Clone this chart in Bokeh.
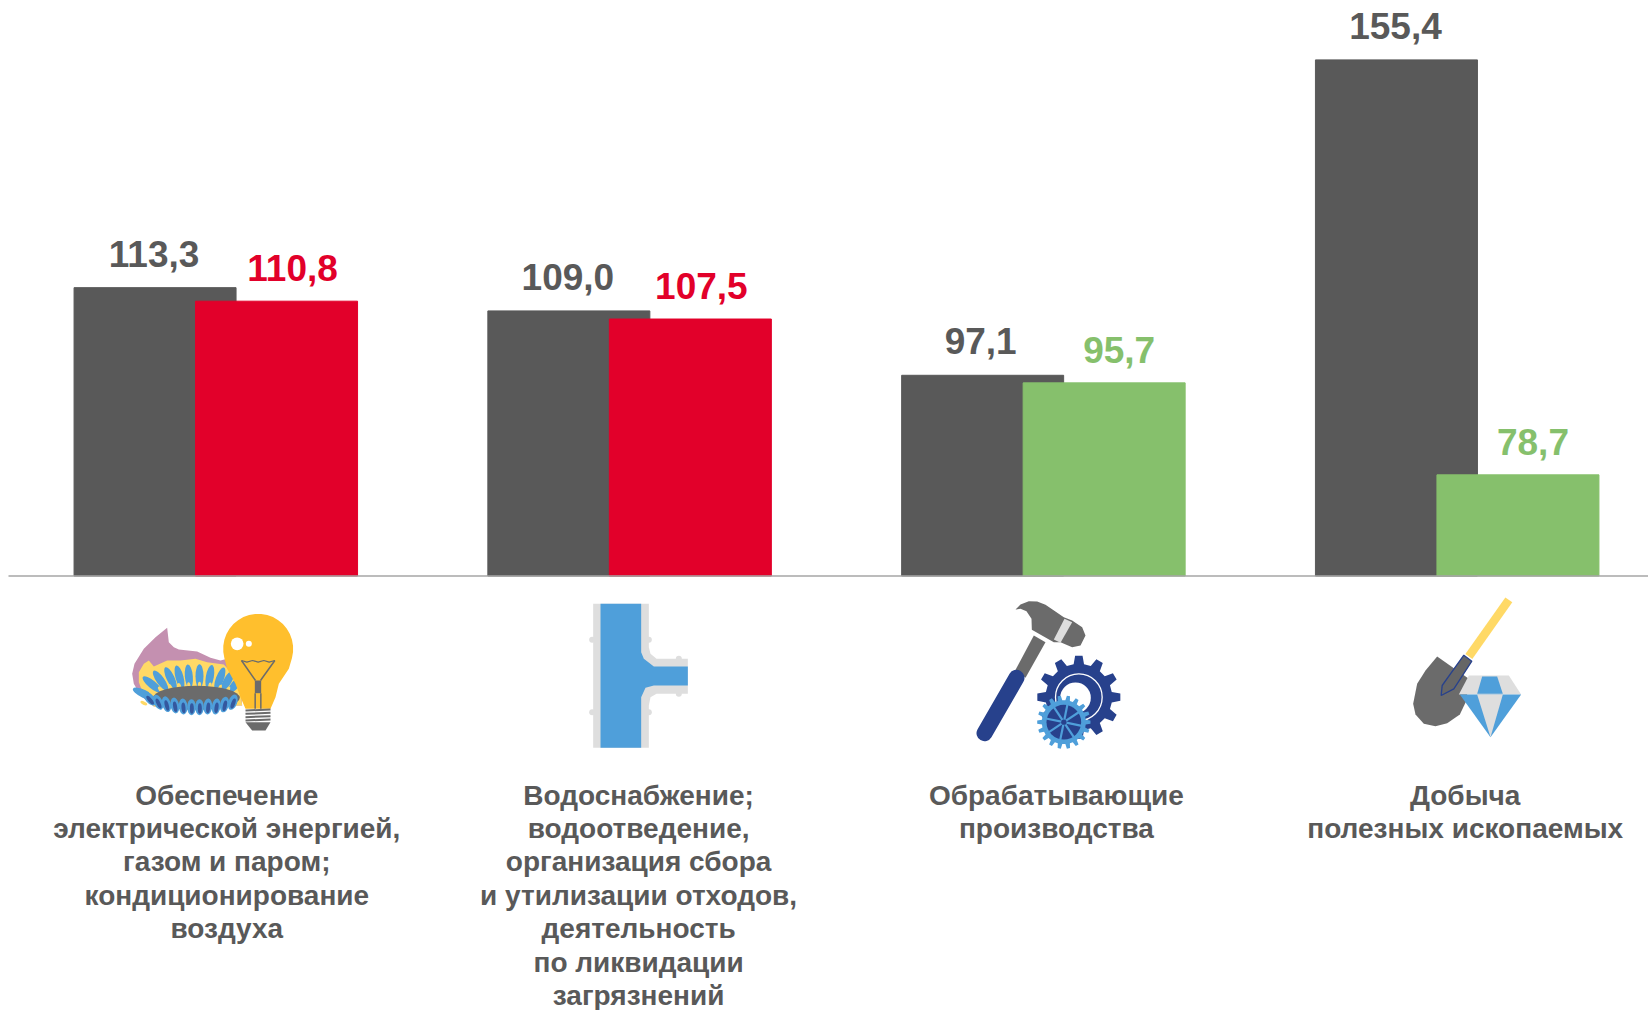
import numpy as np
from bokeh.embed import file_html
from bokeh.resources import INLINE
from bokeh.plotting import figure
from bokeh.models import Range1d
from bokeh.core.properties import value

# ---- data ----
categories = [
    "Обеспечение\nэлектрической энергией,\nгазом и паром;\nкондиционирование\nвоздуха",
    "Водоснабжение;\nводоотведение,\nорганизация сбора\nи утилизации отходов,\nдеятельность\nпо ликвидации\nзагрязнений",
    "Обрабатывающие\nпроизводства",
    "Добыча\nполезных ископаемых",
]
series_a = [113.3, 109.0, 97.1, 155.4]
series_b = [110.8, 107.5, 95.7, 78.7]
labels_a = ["113,3", "109,0", "97,1", "155,4"]
labels_b = ["110,8", "107,5", "95,7", "78,7"]

# ---- style ----
GRAY, RED, GREEN = "#595959", "#E2002A", "#86C06C"
colors_b = [RED, RED, GREEN, GREEN]
label_dx_a = [-1, -1, -2, -1]
label_dx_b = [16, 11, 15, 15]
cat_dx = [11, 9, 13, 8]
FONT = value("Liberation Sans")
W, H = 1648, 1010
PERIOD = 413.8
X0 = 215.3
PX_PER_UNIT = 5.41
BASE = 60
AXIS_Y = 575.5

p = figure(width=W, height=H, output_backend="svg", toolbar_location=None,
           x_range=Range1d(-X0 / PERIOD, (W - X0) / PERIOD),
           y_range=Range1d(BASE - (H - AXIS_Y) / PX_PER_UNIT, BASE + AXIS_Y / PX_PER_UNIT),
           min_border=0, outline_line_color=None)
p.grid.visible = False
p.axis.visible = False
# overlay ranges in page pixels, for the pictograms and caption placement
p.extra_x_ranges["px"] = Range1d(0, W)
p.extra_y_ranges["px"] = Range1d(H, 0)
PX = dict(x_range_name="px", y_range_name="px")

xs = np.arange(len(categories), dtype=float)
BW = 162 / PERIOD
OFF = 60.75 / PERIOD

p.vbar(x=xs - OFF, top=series_a, bottom=BASE, width=BW, color=GRAY)
p.vbar(x=xs + OFF, top=series_b, bottom=BASE, width=BW, color=colors_b)
p.line(x=[8, W], y=[BASE, BASE], line_color="#A6A6A6", line_width=1.5, x_range_name="px")

p.text(x=xs - OFF, y=series_a, text=labels_a, text_color=GRAY, text_font=FONT,
       text_font_style="bold", text_font_size="37px", text_align="center",
       text_baseline="alphabetic", x_offset=label_dx_a, y_offset=-34)
p.text(x=xs + OFF, y=series_b, text=labels_b, text_color=colors_b, text_font=FONT,
       text_font_style="bold", text_font_size="37px", text_align="center",
       text_baseline="alphabetic", x_offset=label_dx_b, y_offset=-33)

p.text(x=xs, y=[779] * 4, text=categories, x_offset=cat_dx, text_color=GRAY, text_font=FONT,
       text_font_style="bold", text_font_size="28px", text_align="center",
       text_baseline="top", text_line_height=1.08, y_range_name="px")


# ---- pictograms (page pixels via zoom-crop coordinates, 3x) ----
def poly(x0, y0, pts, color, **kw):
    a = np.array(pts, dtype=float)
    p.patch(x0 + a[:, 0] / 3, y0 + a[:, 1] / 3, fill_color=color,
            line_color=kw.get("line_color", None), line_width=kw.get("line_width", 0), **PX)


def circ(x0, y0, cx, cy, r, color, line_color=None, line_width=0, fill=True):
    p.ellipse(x0 + cx / 3, y0 + cy / 3, width=2 * r / 3, height=2 * r / 3,
              fill_color=color if fill else None, line_color=line_color,
              line_width=line_width, **PX)


def seg(x0, y0, pts, color, w, cap="butt"):
    a = np.array(pts, dtype=float)
    p.line(x0 + a[:, 0] / 3, y0 + a[:, 1] / 3, line_color=color, line_width=w, line_cap=cap, **PX)


def oval(x0, y0, cx, cy, w, h, ang, color):
    p.ellipse(x0 + cx / 3, y0 + cy / 3, width=w / 3, height=h / 3, angle=ang,
              fill_color=color, line_color=None, **PX)


def gear(x0, y0, cx, cy, r1, r2, n, color):
    pts = []
    for i in range(n):
        t = 2 * np.pi * i / n
        d = 2 * np.pi / n
        for f, r in ((-0.3, r1), (-0.17, r2), (0.17, r2), (0.3, r1)):
            pts.append((cx + r * np.cos(t + f * d), cy + r * np.sin(t + f * d)))
    poly(x0, y0, pts, color)


BLUE, NAVY, LGRAY, MGRAY, YEL = "#4F9FDA", "#27418C", "#DEDEDE", "#6B6B6B", "#FFD966"

# icon 1: burner and bulb
a, b = 110, 580
poly(a, b, [(170, 142), (175, 185), (190, 200), (205, 207), (260, 213), (300, 232), (330, 240), (350, 235), (390, 300),
            (395, 375), (130, 378), (90, 345), (70, 310), (65, 280), (72, 250), (100, 205), (135, 170)], "#C490B0")
poly(a, b, [(85, 275), (100, 250), (115, 240), (130, 258), (170, 240), (210, 240), (255, 235), (290, 245), (340, 252),
            (385, 300), (395, 375), (130, 378), (100, 345), (85, 305)], YEL)
ax_back = [(100, 340, -65), (125, 312, -50), (150, 300, -35), (180, 293, -25), (207, 290, -15), (235, 288, -5),
           (267, 287, 0), (298, 289, 10), (328, 295, 20), (352, 300, 30), (375, 312, 40)]
for cx, cy, d in ax_back:
    oval(a, b, cx, cy, 24, 72, np.radians(-d), BLUE)
for cx, cy, d in ax_back:
    oval(a, b, cx, cy + 28, 10, 22, np.radians(-d), YEL)
oval(a, b, 258, 352, 260, 72, 0, MGRAY)
ax_front = [(118, 355, 40), (143, 365, 25), (168, 371, 15), (193, 375, 10), (218, 378, 5), (243, 380, 0),
            (267, 380, 0), (292, 378, -5), (317, 378, -8), (342, 372, -12), (367, 365, -20)]
for cx, cy, d in ax_front:
    oval(a, b, cx, cy, 26, 48, np.radians(d), BLUE)
for cx, cy, d in ax_front:
    oval(a, b, cx + 1, cy + 4, 12, 32, np.radians(d), "#34589F")
t = np.radians(np.arange(-195, 16, 10))
bulb = [(443 + 105 * np.cos(v), 205 + 105 * np.sin(v)) for v in t]
bulb += [(535, 265), (505, 310), (495, 350), (480, 385), (405, 385), (390, 350), (375, 310), (350, 265)]
poly(a, b, bulb, "#FFBF2D")
circ(a, b, 380, 190, 19, "white")
circ(a, b, 415, 190, 9, "white")
seg(a, b, [(393, 240), (409, 245), (426, 240), (443, 245), (460, 240), (476, 245), (493, 240)], MGRAY, 1.3)
seg(a, b, [(393, 240), (435, 300)], MGRAY, 1.5)
seg(a, b, [(493, 240), (450, 300)], MGRAY, 1.5)
poly(a, b, [(433, 300), (452, 300), (452, 338), (433, 338)], MGRAY)
seg(a, b, [(434, 338), (434, 385)], MGRAY, 1.5)
seg(a, b, [(451, 338), (451, 385)], MGRAY, 1.5)
for yy in (390, 400, 410, 420):
    seg(a, b, [(405, yy), (480, yy - 3)], MGRAY, 2)
poly(a, b, [(405, 425), (480, 425), (465, 450), (425, 450)], MGRAY)

# icon 2: pipe
a, b = 570, 590
for cx, cy in [(65, 148), (235, 148), (65, 365), (235, 365), (325, 205), (325, 310)]:
    circ(a, b, cx, cy, 9, LGRAY)
poly(a, b, [(68, 40), (235, 40), (235, 170), (240, 190), (258, 205), (352, 205), (352, 310), (258, 310),
            (240, 320), (235, 345), (235, 472), (68, 472)], LGRAY)
poly(a, b, [(90, 40), (212, 40), (212, 185), (220, 205), (250, 228), (352, 228), (352, 285), (250, 285),
            (225, 292), (212, 320), (212, 472), (90, 472)], BLUE)

# icon 3: hammer and gears
a, b = 960, 590
poly(a, b, [(220, 135), (255, 155), (195, 262), (165, 238)], MGRAY)
seg(a, b, [(168, 262), (72, 428)], NAVY, 16, "round")
poly(a, b, [(165, 57), (180, 42), (205, 32), (230, 33), (255, 43), (310, 80), (335, 90), (365, 110), (375, 135),
            (360, 165), (335, 170), (300, 155), (280, 155), (214, 118), (213, 85), (198, 62), (180, 55)], MGRAY)
poly(a, b, [(312, 85), (335, 95), (300, 157), (280, 147)], LGRAY)
gear(a, b, 355, 320, 100, 125, 12, NAVY)
circ(a, b, 355, 320, 70, None, "white", 1.3, fill=False)
circ(a, b, 345, 322, 46, "white")
gear(a, b, 310, 395, 66, 80, 18, BLUE)
circ(a, b, 310, 395, 52, NAVY)
for k in range(8):
    v = k * np.pi / 4 + 0.2
    seg(a, b, [(310, 395), (310 + 55 * np.cos(v), 395 + 55 * np.sin(v))], BLUE, 2.2)
circ(a, b, 310, 395, 8, NAVY)

# icon 4: shovel and diamond
a, b = 1400, 590
seg(a, b, [(325, 28), (205, 198)], YEL, 8.5)
poly(a, b, [(110, 198), (205, 265), (198, 330), (178, 372), (140, 398), (105, 407), (70, 400), (45, 372), (38, 340),
            (50, 280), (75, 240)], MGRAY)
poly(a, b, [(190, 194), (214, 212), (160, 295), (122, 315), (125, 285)], "#666666", line_color=NAVY, line_width=1.3)
poly(a, b, [(205, 255), (325, 255), (362, 312), (175, 312)], LGRAY)
poly(a, b, [(245, 258), (290, 258), (307, 310), (230, 310)], BLUE)
poly(a, b, [(178, 312), (362, 312), (270, 440)], BLUE)
poly(a, b, [(230, 312), (307, 312), (270, 440)], LGRAY)

open("out.html", "w").write(file_html(p, INLINE))
